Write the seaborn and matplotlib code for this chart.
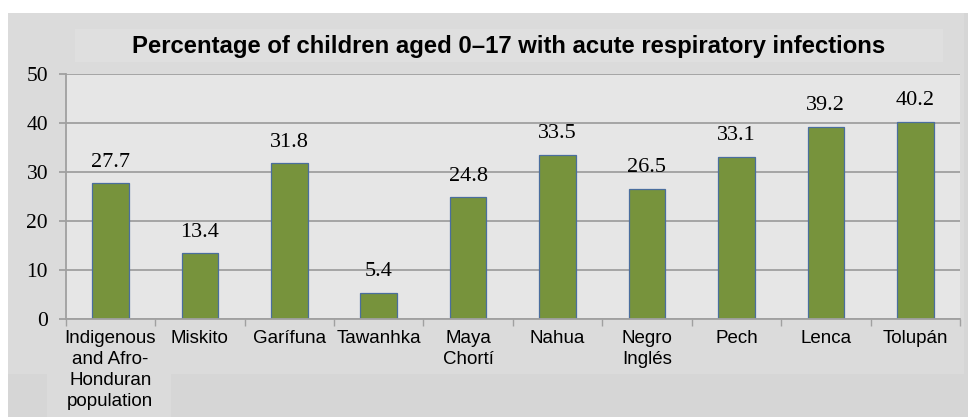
import matplotlib
matplotlib.use('Agg')
import matplotlib.pyplot as plt
import seaborn as sns
import pandas as pd
import numpy as np
from matplotlib.patches import Rectangle

categories = ["Indigenous\nand Afro-\nHonduran\npopulation", "Miskito", "Garífuna", "Tawanhka",
              "Maya\nChortí", "Nahua", "Negro\nInglés", "Pech", "Lenca", "Tolupán"]
values = [27.7, 13.4, 31.8, 5.4, 24.8, 33.5, 26.5, 33.1, 39.2, 40.2]
yticks = [0, 10, 20, 30, 40, 50]
title = "Percentage of children aged 0\u201317 with acute respiratory infections"

W, H = 968, 417
fig = plt.figure(figsize=(W / 100, H / 100), dpi=100, facecolor='white')


def px_rect(x0, y0, x1, y1, color):
    fig.patches.append(Rectangle((x0 / W, 1 - y1 / H), (x1 - x0) / W, (y1 - y0) / H,
                                 transform=fig.transFigure, facecolor=color,
                                 edgecolor='none', zorder=-5))


px_rect(8, 13, 968, 417, '#D6D6D6')
px_rect(8, 13, 964, 374, '#DBDBDB')
px_rect(47, 374, 171, 417, '#DBDBDB')
px_rect(75, 29, 943, 62, '#DFDFDF')

ax = fig.add_axes([65.7 / W, 1 - 319 / H, (960 - 65.7) / W, (319 - 74) / H])
df = pd.DataFrame({'group': categories, 'value': values})
sns.barplot(data=df, x='group', y='value', color='#77933C', saturation=1, width=0.41,
            edgecolor='#4A6E9E', linewidth=0.9, ax=ax)

ax.set_xlim(-0.5, len(categories) - 0.5)
ax.set_ylim(0, 50)
ax.set_facecolor('#E6E6E6')
ax.set_axisbelow(True)
ax.yaxis.grid(True, color='#A0A0A0', lw=1.3)
ax.xaxis.grid(False)
for s in ['top', 'right']:
    ax.spines[s].set_visible(False)
for s in ['left', 'bottom']:
    ax.spines[s].set_color('#A0A0A0')
    ax.spines[s].set_linewidth(1.3)

ax.set_yticks(yticks)
ax.set_yticklabels([str(t) for t in yticks], fontsize=15.5, family='Liberation Serif')
ax.tick_params(axis='y', length=4.7, width=1.3, color='#A0A0A0', pad=8)
ax.set_xticks(np.arange(len(categories)))
ax.set_xticklabels(categories, fontsize=13.5, family='Liberation Sans', linespacing=1.3)
ax.set_xticks(np.arange(-0.5, len(categories), 1), minor=True)
ax.tick_params(axis='x', which='major', length=0, pad=8)
ax.tick_params(axis='x', which='minor', length=5, width=1, color='#A0A0A0')
ax.set_xlabel('')
ax.set_ylabel('')

for i, v in enumerate(values):
    ax.annotate(f'{v}', (i, v), xytext=(0, 12), textcoords='offset points',
                ha='center', va='baseline', fontsize=16, family='Liberation Serif')

fig.text(509 / W, 1 - 46.5 / H, title, ha='center', va='center', fontsize=17.2,
         weight='bold', family='Liberation Sans')

fig.savefig('out.png', dpi=100, facecolor=fig.get_facecolor())
